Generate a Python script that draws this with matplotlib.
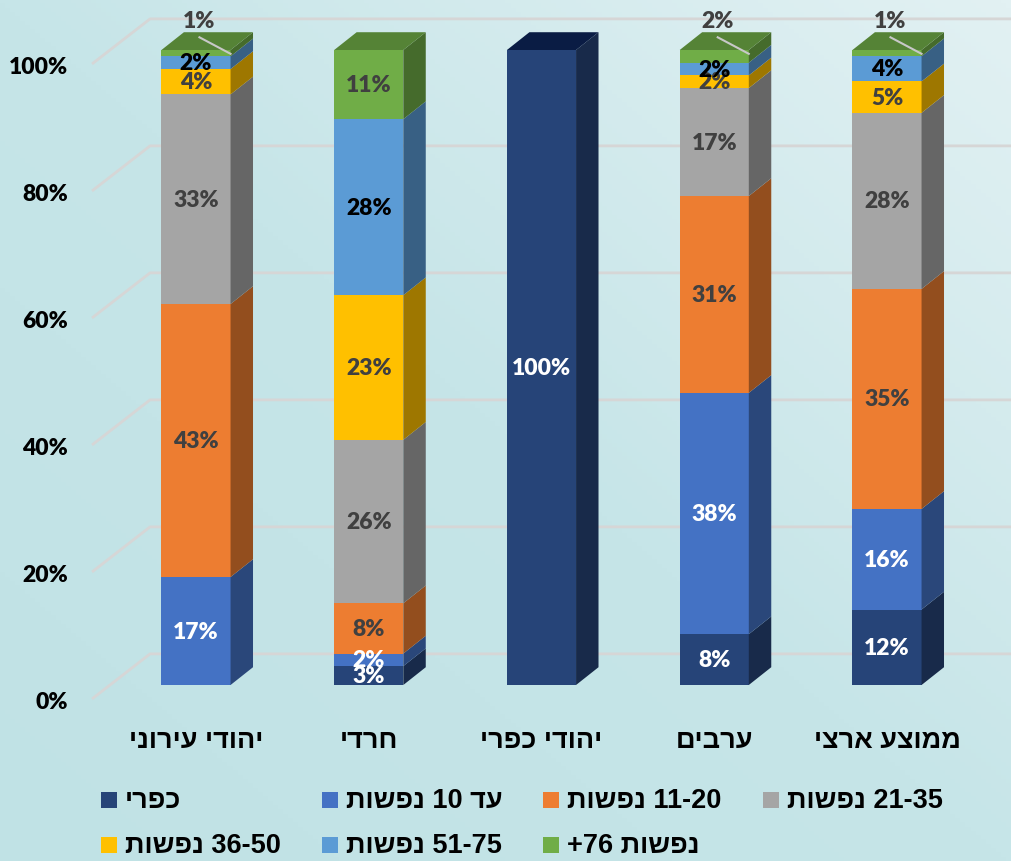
"""Stacked 100% 3D-look column chart: household size share by population group."""

import re

import matplotlib

matplotlib.use("Agg")
import matplotlib.pyplot as plt
import numpy as np
from matplotlib.colors import LinearSegmentedColormap, to_rgb
from matplotlib.patches import Polygon, Rectangle

W, H = 1011, 862

# ---------------------------------------------------------------------------
# Data (logical Hebrew order)
# ---------------------------------------------------------------------------
CATEGORIES = ["יהודי עירוני", "חרדי", "יהודי כפרי", "ערבים", "ממוצע ארצי"]
SERIES = [
    "כפרי",
    "עד 10 נפשות",
    "11-20 נפשות",
    "21-35 נפשות",
    "36-50 נפשות",
    "51-75 נפשות",
    "נפשות 76+",
]
VALUES = {
    "כפרי": [0, 3, 100, 8, 12],
    "עד 10 נפשות": [17, 2, 0, 38, 16],
    "11-20 נפשות": [43, 8, 0, 31, 35],
    "21-35 נפשות": [33, 26, 0, 17, 28],
    "36-50 נפשות": [4, 23, 0, 2, 5],
    "51-75 נפשות": [2, 28, 0, 2, 4],
    "נפשות 76+": [1, 11, 0, 2, 1],
}
Y_TICKS = [0, 20, 40, 60, 80, 100]

COLORS = ["#264478", "#4472C4", "#ED7D31", "#A5A5A5", "#FFC000", "#5B9BD5", "#70AD47"]
LABEL_COLORS = ["white", "white", "#404040", "#404040", "#404040", "black", "#404040"]
NAVY_TOP = "#0a1c44"

# fake-3D geometry (data units)
BAR_W = 0.40
DEPTH_X, DEPTH_Y = 0.130, 2.8
WALL_X0, WALL_X1 = -0.602, -0.266
WALL_DY_FRONT, WALL_DY_BACK = -2.2, 4.9

NUM_FONT = "Lato"
HEB_FONT = "Liberation Sans"
NUM_SIZE = 16.5
HEB_SIZE = 19.5


def vis(s: str) -> str:
    """Logical Hebrew -> visual order (matplotlib has no bidi support)."""
    r = s[::-1]
    return re.sub(r"[0-9\-]+", lambda m: m.group(0)[::-1], r)


def shade(color: str, f: float) -> tuple:
    return tuple(c * f for c in to_rgb(color))


fig = plt.figure(figsize=(W / 100, H / 100), dpi=100)

# background gradient
bg = fig.add_axes([0, 0, 1, 1], zorder=0)
bg.axis("off")
gy, gx = np.mgrid[0:1:200j, 0:1:200j]
grad = np.clip(0.5 * gy + 0.5 * gx, 0, 1)
cmap = LinearSegmentedColormap.from_list("bg", ["#c0e2e5", "#c6e5e8", "#e2f1f3"])
bg.imshow(grad, cmap=cmap, origin="lower", extent=[0, 1, 0, 1], aspect="auto")

# main axes: x = category index, y = percent
ax = fig.add_axes([0, 0, 1, 1], zorder=1)
ax.patch.set_alpha(0)
ax.axis("off")
px_per_x = 172.75
px_per_y = 6.35
ax.set_xlim(-196 / px_per_x, (W - 196) / px_per_x)
ax.set_ylim(-(H - 686) / px_per_y, 686 / px_per_y)

# gridlines: diagonal floor-to-wall + horizontal back wall
for v in Y_TICKS:
    ax.plot(
        [WALL_X0, WALL_X1, 10],
        [v + WALL_DY_FRONT, v + WALL_DY_BACK, v + WALL_DY_BACK],
        color="#d6d6d6",
        lw=2,
        zorder=1,
        solid_capstyle="butt",
    )
    ax.text(
        -0.74, v + WALL_DY_FRONT - 0.4, f"{v}%",
        ha="right", va="center", fontsize=NUM_SIZE, fontweight="heavy",
        family=NUM_FONT, color="black",
    )

# bars
x = np.arange(len(CATEGORIES))
totals = np.sum([VALUES[s] for s in SERIES], axis=0)
bottom = np.zeros(len(CATEGORIES))
for si, s in enumerate(SERIES):
    vals = np.array(VALUES[s], dtype=float) / totals * 100
    bars = ax.bar(x, vals, BAR_W, bottom=bottom, color=COLORS[si], zorder=3,
                  linewidth=0)
    for i, (rect, v) in enumerate(zip(bars, vals)):
        if v <= 0:
            continue
        xr = rect.get_x() + rect.get_width()
        y0, y1 = bottom[i], bottom[i] + v
        side = Polygon(
            [(xr, y0), (xr + DEPTH_X, y0 + DEPTH_Y),
             (xr + DEPTH_X, y1 + DEPTH_Y), (xr, y1)],
            closed=True, facecolor=shade(COLORS[si], 0.62), lw=0, zorder=3,
        )
        ax.add_patch(side)
    bottom = bottom + vals

# top faces + labels
bottom = np.zeros(len(CATEGORIES))
for si, s in enumerate(SERIES):
    vals = np.array(VALUES[s], dtype=float) / totals * 100
    for i, v in enumerate(vals):
        if v <= 0:
            continue
        y0, y1 = bottom[i], bottom[i] + v
        xl, xr = x[i] - BAR_W / 2, x[i] + BAR_W / 2
        if abs(y1 - 100) < 1e-6:
            top_c = NAVY_TOP if si == 0 else shade(COLORS[si], 0.76)
            ax.add_patch(Polygon(
                [(xl, y1), (xr, y1), (xr + DEPTH_X, y1 + DEPTH_Y),
                 (xl + DEPTH_X, y1 + DEPTH_Y)],
                closed=True, facecolor=top_c, lw=0, zorder=4,
            ))
        raw = VALUES[s][i]
        if si == len(SERIES) - 1 and raw < 5:
            # small top segment: label above with leader line
            lx = x[i] + 0.02
            ax.text(lx, 104.6, f"{raw}%", ha="center", va="center",
                    fontsize=NUM_SIZE, fontweight="heavy", family=NUM_FONT,
                    color="#404040", zorder=6)
            ax.plot([lx, xr], [102.0, y1 - 0.6], color="#c8c8c8",
                    lw=1.5, zorder=5)
        else:
            ax.text(x[i], (y0 + y1) / 2, f"{raw}%", ha="center", va="center",
                    fontsize=NUM_SIZE, fontweight="heavy", family=NUM_FONT,
                    color=LABEL_COLORS[si], zorder=6)
    bottom = bottom + vals

# category labels
for i, c in enumerate(CATEGORIES):
    ax.text(x[i], -8.6, vis(c), ha="center", va="center", fontsize=HEB_SIZE,
            fontweight="bold", family=HEB_FONT, color="black")

# legend (manual, row-major)
LEG_COL_X = [101, 322, 543, 763]
LEG_ROW_Y = [801, 846]
for si, s in enumerate(SERIES):
    r, c = divmod(si, 4)
    sx, sy = LEG_COL_X[c], LEG_ROW_Y[r]
    fig.patches.append(Rectangle(
        (sx / W, 1 - (sy + 8) / H), 16 / W, 16 / H,
        transform=fig.transFigure, facecolor=COLORS[si], lw=0, zorder=5,
    ))
    fig.text((sx + 24) / W, 1 - sy / H, vis(s), ha="left", va="center",
             fontsize=HEB_SIZE, fontweight="bold", family=HEB_FONT, color="black",
             zorder=5)

fig.savefig("out.png", dpi=100)
